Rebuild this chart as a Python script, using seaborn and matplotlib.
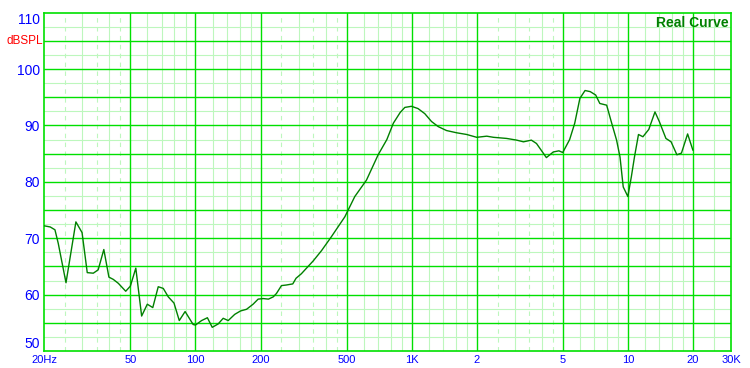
import numpy as np
import pandas as pd
import matplotlib
matplotlib.use("Agg")
import matplotlib.pyplot as plt
import seaborn as sns

# ---- data ----
freq_hz = [20, 21.3, 22.4, 23.2, 25.2, 28.0, 29.9, 31.6, 33.7, 35.5, 37.7, 39.8,
           41.7, 44.0, 47.6, 50, 53, 56.4, 59.9, 63.5, 67.3, 71, 74.9, 79.6,
           84.2, 89.6, 97.6, 100, 106.8, 113.6, 119.6, 127.4, 134.4, 141.8, 152,
           161.6, 172.4, 184.8, 195, 206, 217.6, 229, 237, 250, 263, 282, 292,
           309, 332, 351, 383, 426, 491, 546, 618, 700, 768, 823, 885, 930, 998,
           1070, 1150, 1236, 1327, 1450, 1616, 1798, 2000, 2226, 2390, 2750, 3060,
           3290, 3580, 3780, 4200, 4520, 4800, 5000, 5380, 5680, 6000, 6340, 6700,
           7100, 7420, 7980, 8420, 8870, 9200, 9520, 10000, 10380, 10730, 11200,
           11740, 12500, 13350, 13980, 15000, 15850, 16860, 17700, 18900, 20000]
spl_db = [72.2, 72.0, 71.5, 69.1, 62.1, 72.9, 71.0, 63.9, 63.8, 64.4, 68.0, 63.1,
          62.7, 62.0, 60.6, 61.5, 64.7, 56.2, 58.3, 57.7, 61.4, 61.1, 59.6, 58.5,
          55.4, 57.0, 54.7, 54.6, 55.4, 55.9, 54.2, 54.8, 55.8, 55.4, 56.5,
          57.1, 57.4, 58.3, 59.2, 59.3, 59.2, 59.6, 60.2, 61.6, 61.7, 61.9, 62.9,
          63.7, 65.0, 66.0, 67.8, 70.3, 73.8, 77.4, 80.3, 84.8, 87.5, 90.4, 92.3, 93.2, 93.4,
          93.0, 92.1, 90.7, 89.8, 89.1, 88.7, 88.4, 87.9, 88.1, 87.9, 87.7, 87.4,
          87.1, 87.4, 86.8, 84.3, 85.3, 85.5, 85.2, 87.5, 90.4, 94.8, 96.2, 96.0,
          95.4, 93.9, 93.6, 90.4, 87.4, 84.4, 79.1, 77.4, 80.9, 84.4, 88.4,
          88.0, 89.3, 92.4, 90.7, 87.7, 87.1, 84.8, 85.1, 88.5, 85.6]

x_ticks = [20, 50, 100, 200, 500, 1000, 2000, 5000, 10000, 20000, 30000]
x_tick_labels = ["20Hz", "50", "100", "200", "500", "1K", "2", "5", "10", "20", "30K"]
y_ticks = [50, 60, 70, 80, 90, 100, 110]
y_tick_labels = ["50", "60", "70", "80", "90", "100", "110"]

BRIGHT = "#00E000"
LIGHT = "#BDF7BD"
CURVE = "#008000"
BLUE = "#0000FF"

sns.set_style("white")
plt.rcParams["font.family"] = ["Liberation Sans", "DejaVu Sans"]

W, H = 750, 368
fig = plt.figure(figsize=(W / 100, H / 100), dpi=100)
L, R, T, B = 44.3, 731.0, 12.7, 351.0
ax = fig.add_axes([L / W, 1 - B / H, (R - L) / W, (B - T) / H])

df = pd.DataFrame({"freq": freq_hz, "spl": spl_db})
sns.lineplot(data=df, x="freq", y="spl", ax=ax, color=CURVE, lw=1.0, zorder=5)

ax.set_xscale("log")
ax.set_xlim(20, 30000)
ax.set_ylim(50, 110)

# grid
lw = 0.8
solid_mult = [1.2, 1.4, 1.6, 1.8, 3, 4, 6, 7, 8, 9]
dash_mult = [2.5, 3.5, 4.5]
for dec in [10, 100, 1000, 10000]:
    for m in solid_mult:
        v = m * dec
        if 20 < v < 30000:
            ax.axvline(v, color=LIGHT, lw=lw, zorder=1)
    for m in dash_mult:
        v = m * dec
        if 20 < v < 30000:
            if v == 25000:
                ax.axvline(v, color=LIGHT, lw=lw, zorder=1)
            else:
                ax.axvline(v, color=LIGHT, lw=lw, ls=(0, (4, 4)), zorder=1)
for v in np.arange(52.5, 110, 5):
    ax.axhline(v, color=LIGHT, lw=lw, zorder=1)
for v in [50, 100, 200, 500, 1000, 2000, 5000, 10000, 20000]:
    ax.axvline(v, color=BRIGHT, lw=1.0, zorder=2)
for v in np.arange(55, 110, 5):
    ax.axhline(v, color=BRIGHT, lw=1.0, zorder=2)

for s in ax.spines.values():
    s.set_color(BRIGHT)
    s.set_linewidth(1.2)
    s.set_visible(True)

ax.set_xticks(x_ticks)
ax.set_xticklabels(x_tick_labels)
ax.xaxis.set_minor_locator(matplotlib.ticker.NullLocator())
ax.set_yticks(y_ticks)
ax.set_yticklabels(y_tick_labels)
ax.tick_params(axis="both", length=0, colors=BLUE)
ax.tick_params(axis="x", labelsize=8, pad=3)
ax.tick_params(axis="y", labelsize=10, pad=3)
ax.set_xlabel("")
ax.set_ylabel("")

ylabs = ax.get_yticklabels()
ylabs[0].set_verticalalignment("bottom")
ylabs[-1].set_verticalalignment("top")

fig.text(43 / W, 1 - 40.5 / H, "dBSPL", color="red", fontsize=8.5,
         ha="right", va="center")
ax.text(0.997, 0.971, "Real Curve", transform=ax.transAxes, ha="right",
        va="center", fontsize=10, fontweight="bold", color=CURVE, zorder=6)

fig.savefig("out.png", dpi=100, facecolor="white")
